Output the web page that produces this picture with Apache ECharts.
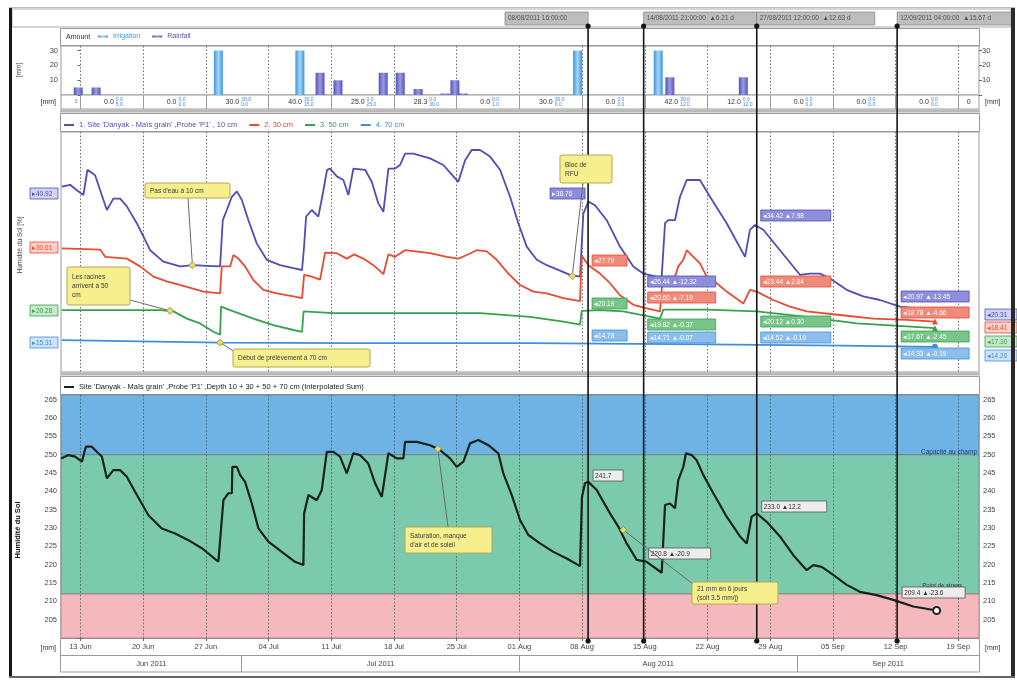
<!DOCTYPE html>
<html><head><meta charset="utf-8">
<script src="https://cdn.jsdelivr.net/npm/echarts@6/dist/echarts.min.js"></script>
<style>html,body{margin:0;padding:0;background:#fff;overflow:hidden}#c{width:1017px;height:681px}</style>
</head><body><div id="c"></div>
<script>
// ---------- DATA (x = days since 13 Jun 2011) ----------
const X_MIN = -2.17, X_MAX = 100.31;
const weekTicks = [0,7,14,21,28,35,42,49,56,63,70,77,84,91,98];
const weekLabels = ['13 Jun','20 Jun','27 Jun','04 Jul','11 Jul','18 Jul','25 Jul','01 Aug','08 Aug','15 Aug','22 Aug','29 Aug','05 Sep','12 Sep','19 Sep'];
const monthStarts = [18,49,80];
const monthLabels = ['Jun 2011','Jul 2011','Aug 2011','Sep 2011'];

const irrigation = [[15.4,30],[24.5,30],[55.5,30],[64.5,30]];
const rainfall = [[-0.25,5],[1.75,5],[26.75,15],[28.75,10],[33.8,15],[35.7,15],[37.7,4],[40.7,1],[41.8,10],[42.7,1],[65.8,12],[74.0,12]];

const weekTotals = ['','0.0','0.0','30.0','40.0','25.0','28.3','0.0','30.0','0.0','42.0','12.0','0.0','0.0','0.0','0'];
const weekIrr    = ['0','0.0','0.0','30.0','30.0','0.0','0.0','0.0','30.0','0.0','30.0','0.0','0.0','0.0','0.0',''];
const weekRain   = ['','5.0','0.0','0.0','15.0','25.0','30.0','1.0','0.0','0.0','12.0','12.0','0.0','0.0','0.0',''];

const soil10 = [[-2.08,40.9],[-1.15,41.2],[-0.40,40.3],[0.33,39.5],[0.78,43.7],[1.64,42.8],[2.20,40.3],[2.95,37.0],[3.68,38.9],[4.43,38.9],[5.18,37.6],[6.29,34.8],[7.78,30.3],[9.26,28.4],[11.13,27.6],[12.61,27.8],[14.11,27.7],[15.59,27.6],[15.89,35.3],[16.34,37.0],[16.90,39.2],[17.46,40.1],[18.01,38.7],[18.75,35.3],[19.69,31.4],[20.80,28.7],[22.29,27.8],[23.77,27.3],[24.74,27.0],[24.97,31.0],[25.19,35.9],[25.83,37.0],[26.56,35.9],[27.09,40.0],[27.53,43.7],[27.87,43.9],[28.62,42.6],[29.35,42.0],[29.91,39.5],[30.47,43.9],[31.78,43.7],[32.52,41.7],[33.26,38.1],[33.82,36.7],[34.38,43.9],[35.12,43.9],[35.68,44.5],[36.24,46.4],[37.17,46.4],[39.03,45.6],[40.51,44.5],[41.63,42.6],[42.19,41.7],[42.94,45.3],[43.68,47.0],[44.61,47.0],[45.73,45.9],[46.84,43.7],[47.96,39.2],[48.88,34.8],[49.82,30.9],[50.94,28.7],[52.05,27.8],[53.54,26.9],[54.65,26.2],[55.77,25.9],[56.14,36.4],[56.70,38.4],[57.44,37.8],[58.75,35.3],[60.23,30.9],[61.72,27.6],[62.83,26.4],[64.33,25.9],[64.89,25.9],[65.26,34.8],[65.63,35.3],[66.37,35.3],[66.93,39.2],[67.68,42.0],[69.16,42.0],[70.28,39.2],[72.14,34.8],[74.19,29.2],[74.74,33.7],[75.30,34.5],[76.23,33.7],[78.09,30.3],[80.32,26.2],[81.44,26.4],[82.55,26.4],[83.67,25.6],[85.54,23.7],[87.39,22.6],[89.25,22.0],[91.48,20.9],[95.39,20.3]];
const soil30 = [[-2.08,30.6],[2.20,30.4],[2.76,29.2],[5.18,28.9],[6.66,27.6],[8.15,25.9],[9.64,25.1],[11.88,24.2],[13.73,23.4],[15.59,23.1],[15.78,27.6],[16.71,27.6],[17.08,29.5],[17.63,28.9],[18.38,27.6],[19.31,25.3],[20.42,23.7],[21.92,23.1],[23.77,22.6],[24.74,22.3],[24.97,26.2],[25.83,25.9],[26.75,25.4],[27.31,29.9],[28.62,29.8],[29.73,28.9],[30.55,29.6],[31.58,28.9],[32.70,27.8],[33.82,26.3],[34.38,29.6],[35.12,29.2],[36.24,30.3],[39.03,29.8],[40.89,29.2],[42.19,28.9],[43.13,29.5],[44.24,30.3],[45.36,30.1],[46.47,28.7],[47.77,26.4],[49.07,24.5],[50.56,23.4],[52.05,23.1],[53.91,22.3],[55.77,21.8],[55.96,29.4],[56.70,27.8],[58.00,26.4],[59.12,24.8],[60.23,22.8],[61.72,21.2],[63.21,20.6],[64.70,20.1],[65.00,25.9],[66.37,25.9],[66.74,27.6],[67.30,28.7],[67.68,30.3],[68.42,29.2],[69.16,28.1],[69.91,25.9],[71.03,24.8],[72.14,23.4],[74.00,21.4],[74.74,23.7],[75.49,23.4],[77.34,22.0],[79.21,20.9],[81.07,20.1],[84.79,19.5],[88.50,18.9],[92.23,18.7],[95.39,18.4]];
const soil50 = [[-2.08,20.3],[8.90,20.3],[10.38,20.1],[11.88,18.9],[13.36,18.1],[14.84,16.7],[15.59,16.2],[15.70,20.9],[17.08,20.1],[19.31,18.9],[21.54,17.8],[23.77,17.0],[24.74,16.7],[24.91,20.1],[28.24,19.8],[35.68,19.8],[44.61,19.8],[50.19,19.2],[53.91,18.4],[55.77,17.9],[55.96,20.2],[58.00,20.3],[60.60,20.1],[64.70,18.9],[65.07,20.4],[69.91,20.4],[75.49,20.1],[81.07,19.2],[86.65,18.1],[92.23,17.6],[95.39,17.3]];
const soil70 = [[-2.08,15.3],[15.6,14.9],[30,14.8],[50,14.8],[70,14.6],[85,14.4],[95.39,14.2]];
const soilSum = [[-2.15,249.0],[-1.34,249.9],[-0.59,249.5],[0.16,248.1],[0.60,252.2],[1.27,252.2],[1.83,250.8],[2.39,249.5],[2.95,243.6],[3.68,245.8],[4.43,245.8],[5.18,244.0],[6.10,239.9],[7.59,233.5],[9.08,229.9],[10.57,228.5],[12.05,226.7],[13.55,224.5],[15.40,220.8],[15.70,229.9],[15.96,237.6],[16.52,239.5],[16.90,239.5],[16.96,246.7],[17.46,246.7],[17.82,244.5],[18.38,242.6],[19.13,236.7],[19.87,229.9],[20.98,226.3],[22.48,223.5],[23.96,220.8],[24.89,219.9],[24.97,234.0],[25.45,239.0],[26.38,237.6],[26.94,240.4],[27.50,250.8],[28.24,250.8],[28.98,249.5],[29.73,244.9],[30.47,250.4],[31.22,249.9],[32.14,247.6],[32.89,242.2],[33.64,238.5],[34.38,250.4],[35.31,249.0],[36.05,249.0],[36.24,253.5],[37.54,253.5],[39.03,252.6],[40.14,251.3],[41.26,249.0],[42.01,246.7],[42.75,248.1],[43.49,253.1],[44.42,254.0],[45.54,252.6],[46.65,250.4],[47.21,244.9],[48.15,239.0],[49.07,232.2],[50.00,228.1],[51.31,225.8],[52.79,223.5],[54.29,221.7],[55.77,219.6],[55.99,238.5],[56.32,242.2],[56.70,242.6],[57.63,240.4],[58.37,237.2],[59.12,234.0],[60.04,230.4],[60.98,225.8],[62.10,221.3],[63.21,220.8],[64.89,217.8],[65.26,236.3],[65.81,236.7],[66.37,235.4],[66.74,243.1],[67.30,246.7],[67.60,250.4],[68.24,249.9],[68.79,248.5],[69.53,244.5],[70.65,239.5],[72.14,233.1],[73.63,227.7],[74.38,225.8],[74.93,233.1],[75.49,234.0],[76.61,231.7],[78.09,227.7],[79.58,222.6],[81.07,218.5],[81.81,219.9],[82.75,219.4],[84.04,217.2],[85.54,214.5],[87.02,212.6],[88.88,211.7],[90.74,210.4],[92.97,208.6],[95.58,207.5]];

const bandFieldCapacity = 250, bandStress = 212, sumMin = 200, sumMax = 266.3;
const sumTicks = [200,205,210,215,220,225,230,235,240,245,250,255,260,265];
const sumLabels = [205,210,215,220,225,230,235,240,245,250,255,260,265];
const amountTicks = [0,10,20,30], amountLabels = [10,20,30];

const cursorDays = [56.67, 62.875, 75.5, 91.17];
const headerTexts = ['08/08/2011 16:00:00', '14/08/2011 21:00:00  \u25B26.21 d', '27/08/2011 12:00:00  \u25B212.63 d', '12/09/2011 04:00:00  \u25B215.67 d'];
const box10 = ['\u25B838.76','\u25C226.44 \u25B2-12.32','\u25C234.42 \u25B27.98','\u25C220.97 \u25B2-13.45'];
const box30 = ['\u25C227.79','\u25C220.60 \u25B2-7.19','\u25C223.44 \u25B22.84','\u25C218.78 \u25B2-4.66'];
const box50 = ['\u25C220.19','\u25C219.82 \u25B2-0.37','\u25C220.12 \u25B20.30','\u25C217.67 \u25B2-2.45'];
const box70 = ['\u25C214.78','\u25C214.71 \u25B2-0.07','\u25C214.52 \u25B2-0.19','\u25C214.33 \u25B2-0.19'];
const boxSum = ['241.7','220.8 \u25B2-20.9','233.0 \u25B212.2','209.4 \u25B2-23.6'];
const startVals = ['\u25B840.92','\u25B830.61','\u25B820.28','\u25B815.31'];
const endVals = ['\u25C220.31','\u25C218.41','\u25C217.30','\u25C214.20'];

const depthNames = ["1. Site 'Danyak - Ma\u00efs grain' ,Probe 'P1' , 10 cm", '2. 30 cm', '3. 50 cm', '4. 70 cm'];
const sumName = "Site 'Danyak - Ma\u00efs grain' ,Probe 'P1' ,Depth 10 + 30 + 50 + 70 cm (Interpolated Sum)";

// ---------- STYLE ----------
const FONT = '"Liberation Sans", Arial, sans-serif';
const depthColors = ['#4E4EB6','#EA4A33','#35A24C','#3D8FDC'];
const depthFill = ['#8E8EDB','#F08A7B','#79C488','#8CBDEB'];
const depthPale = ['#D2D2F3','#FAD0C9','#C8E8CD','#CDE2F7'];
const axisFont = {fontSize:7.5, color:'#444', fontFamily:FONT};

const chart = echarts.init(document.getElementById('c'));

const bounds = [X_MIN].concat(weekTicks, [X_MAX]);
const weekCenters = bounds.slice(0,-1).map((b,i)=>(b+bounds[i+1])/2);
const mb = [X_MIN].concat(monthStarts, [X_MAX]);
const monthCenters = mb.slice(0,-1).map((b,i)=>(b+mb[i+1])/2);

function xBase(gridIndex, extra){
  return Object.assign({
    type:'value', gridIndex, min:X_MIN, max:X_MAX,
    axisLine:{show:false},
    axisTick:{show:false, customValues:weekTicks},
    axisLabel:{show:false, customValues:weekTicks},
    splitLine:{show:true, lineStyle:{color:'#6f6f6f', type:[1.5,2], width:1}}
  }, extra||{});
}
const grids = [
  {left:61, right:38, top:46, height:49, show:true, borderColor:'#9a9a9a', borderWidth:1, backgroundColor:'#fff'},
  {left:61, right:38, top:95, height:14, show:true, borderColor:'#9a9a9a', borderWidth:1, backgroundColor:'#fff'},
  {left:61, right:38, top:132, height:240, show:true, borderColor:'#9a9a9a', borderWidth:1, backgroundColor:'#fff'},
  {left:61, right:38, top:395, height:243, show:true, borderColor:'#8a8a8a', borderWidth:1},
  {left:61, right:38, top:26, height:615}
];

const barGrad = (c1,c2)=>new echarts.graphic.LinearGradient(0,0,1,0,[{offset:0,color:c1},{offset:0.5,color:c2},{offset:1,color:c1}]);

function lineSeries(name, data, color, endSymbol){
  const d = data.map((p,i)=> (i===data.length-1 && endSymbol) ? {value:p, symbol:endSymbol, symbolSize:6, itemStyle:{color}} : p);
  return {type:'line', name, xAxisIndex:2, yAxisIndex:3, data:d, symbol:'none', showSymbol:true,
    lineStyle:{color, width:1.8}, itemStyle:{color}, z:3};
}

const option = {
  animation:false,
  textStyle:{fontFamily:FONT},
  grid: grids,
  legend:[
    {left:98, top:33, padding:0, itemWidth:10, itemHeight:2, itemGap:12, icon:'rect', selectedMode:false,
     textStyle:{fontSize:7, fontFamily:FONT},
     data:[{name:'Irrigation', textStyle:{color:'#3E98E4'}},{name:'Rainfall', textStyle:{color:'#4E4EB6'}}]},
    {left:64, top:121, padding:0, itemWidth:10, itemHeight:2, itemGap:12, icon:'rect', selectedMode:false,
     textStyle:{fontSize:7.5, fontFamily:FONT},
     data: depthNames.map((n,i)=>({name:n, textStyle:{color:depthColors[i]}}))},
    {left:64, top:383, padding:0, itemWidth:10, itemHeight:2, icon:'rect', selectedMode:false,
     textStyle:{fontSize:7.5, fontFamily:FONT, color:'#222'}, data:[sumName]}
  ],
  xAxis:[
    xBase(0),
    xBase(1, {splitLine:{show:true, lineStyle:{color:'#9a9a9a', width:1}}}),
    xBase(2),
    xBase(3, {z:3, axisTick:{show:true, customValues:weekTicks, length:3, lineStyle:{color:'#666'}},
      axisLabel:Object.assign({show:true, customValues:weekTicks, margin:5, formatter:v=>weekLabels[weekTicks.indexOf(v)]}, axisFont),
      splitLine:{show:true, lineStyle:{color:'#33574b', width:0.8, type:[2,1.5], opacity:0.75}}}),
    {type:'value', gridIndex:3, min:X_MIN, max:X_MAX, position:'bottom', offset:17,
      axisLine:{show:true, lineStyle:{color:'#999'}},
      axisTick:{show:true, customValues:monthStarts, length:17, lineStyle:{color:'#999'}},
      axisLabel:Object.assign({show:true, customValues:monthCenters, margin:5, formatter:v=>monthLabels[monthCenters.indexOf(v)]}, axisFont),
      splitLine:{show:false}},
    {type:'value', gridIndex:4, min:X_MIN, max:X_MAX, show:false}
  ],
  yAxis:[
    {type:'value', gridIndex:0, min:0, max:33, axisLine:{show:false},
      axisTick:{show:true, customValues:amountTicks, length:3, lineStyle:{color:'#666'}},
      axisLabel:Object.assign({customValues:amountLabels, margin:3}, axisFont), splitLine:{show:false}},
    {type:'value', gridIndex:0, min:0, max:33, position:'right', axisLine:{show:false},
      axisTick:{show:true, customValues:amountTicks, length:3, lineStyle:{color:'#666'}},
      axisLabel:Object.assign({customValues:amountLabels, margin:3}, axisFont), splitLine:{show:false}},
    {type:'value', gridIndex:1, min:0, max:1, show:false},
    {type:'value', gridIndex:2, min:10, max:50, show:false},
    {type:'value', gridIndex:3, min:sumMin, max:sumMax, axisLine:{show:false},
      axisTick:{show:true, customValues:sumTicks, length:3, lineStyle:{color:'#666'}},
      axisLabel:Object.assign({customValues:sumLabels, margin:4}, axisFont), splitLine:{show:false}},
    {type:'value', gridIndex:3, min:sumMin, max:sumMax, position:'right', axisLine:{show:false},
      axisTick:{show:true, customValues:sumTicks, length:3, lineStyle:{color:'#666'}},
      axisLabel:Object.assign({customValues:sumLabels, margin:4}, axisFont), splitLine:{show:false}},
    {type:'value', gridIndex:4, min:0, max:1, show:false}
  ],
  series:[
    {type:'bar', name:'Irrigation', xAxisIndex:0, yAxisIndex:0, data:irrigation, barWidth:9,
      itemStyle:{color:barGrad('#3C95E0','#A6D6F7')}},
    {type:'bar', name:'Rainfall', xAxisIndex:0, yAxisIndex:0, data:rainfall, barWidth:9, barGap:'-100%',
      itemStyle:{color:barGrad('#5555BC','#9A9AE2')}},
    {type:'custom', name:'weekly', xAxisIndex:1, yAxisIndex:2, clip:false, silent:true,
      data: weekCenters.map(c=>[c,0.5]),
      renderItem:(p,api)=>{
        const i = p.dataIndex; const c = api.coord([api.value(0),0.5]);
        return {type:'group', children:[
          {type:'text', x:c[0]+2, y:c[1], style:{text:weekTotals[i], textAlign:'right', textVerticalAlign:'middle', font:'7px '+FONT, fill:'#333'}},
          {type:'text', x:c[0]+4, y:c[1], style:{text:weekIrr[i]+(weekRain[i]?'\n'+weekRain[i]:''), textAlign:'left', textVerticalAlign:'middle', font:'5px '+FONT, fill:'#3a86dc', lineHeight:5.5}}
        ]};
      }},
    lineSeries(depthNames[0], soil10, depthColors[0], null),
    lineSeries(depthNames[1], soil30, depthColors[1], 'triangle'),
    lineSeries(depthNames[2], soil50, depthColors[2], 'triangle'),
    lineSeries(depthNames[3], soil70, depthColors[3], 'circle'),
    {type:'line', name:sumName, xAxisIndex:3, yAxisIndex:4, symbol:'none', showSymbol:true, z:4,
      data: soilSum.map((p,i)=> i===soilSum.length-1 ? {value:p, symbol:'emptyCircle', symbolSize:7, itemStyle:{color:'#222', borderWidth:1.6}} : p),
      lineStyle:{color:'#16231d', width:2.2}, itemStyle:{color:'#16231d'},
      markArea:{silent:true, data:[
        [{yAxis:bandFieldCapacity, itemStyle:{color:'#6EB3E4', borderColor:'#6c7f8c', borderWidth:0.8}},{yAxis:sumMax}],
        [{yAxis:bandStress, itemStyle:{color:'#7CCAAE', borderColor:'#6c7f7a', borderWidth:0.8}},{yAxis:bandFieldCapacity}],
        [{yAxis:sumMin, itemStyle:{color:'#F5B8BC', borderColor:'#9a7f80', borderWidth:0.8}},{yAxis:bandStress}]
      ]}},
    {type:'custom', name:'cursors', xAxisIndex:5, yAxisIndex:6, clip:false, silent:true, z:20,
      data: cursorDays.map(d=>[d,0]),
      renderItem:(p,api)=>{
        const t = api.coord([api.value(0),1]), b = api.coord([api.value(0),0]);
        return {type:'group', children:[
          {type:'line', shape:{x1:t[0],y1:t[1],x2:b[0],y2:b[1]}, style:{stroke:'#151515', lineWidth:1.6}},
          {type:'circle', shape:{cx:t[0],cy:t[1],r:2.6}, style:{fill:'#151515'}},
          {type:'circle', shape:{cx:b[0],cy:b[1],r:2.6}, style:{fill:'#151515'}}
        ]};
      }}
  ]
};
chart.setOption(option);

// ---------- annotations / frame ----------
const F = {mid:{xAxisIndex:2,yAxisIndex:3}, bot:{xAxisIndex:3,yAxisIndex:4}, ov:{xAxisIndex:5,yAxisIndex:6}};
const cx = cursorDays.map(d=>chart.convertToPixel(F.ov,[d,0])[0]);
const G = [];
function R(x,y,w,h,fill,stroke,lw,z,r){ G.push({type:'rect', silent:true, z:z||0, shape:{x,y,width:w,height:h,r:r||0}, style:{fill:fill||'none', stroke:stroke||null, lineWidth:lw||1}}); }
function T(x,y,text,st,z,rot){ const e={type:'text', silent:true, z:z||40, x, y, style:Object.assign({text, fill:'#333', font:'7px '+FONT, textAlign:'left', textVerticalAlign:'middle'}, st||{})}; if(rot) e.rotation=rot; G.push(e); }
function B(x,y,w,h,fill,stroke,text,tcol,z){ R(x,y,w,h,fill,stroke,0.8,z); T(x+2,y+h/2+0.5,text,{fill:tcol,font:'6.5px '+FONT},z+1); }

// outer frame & header
R(12,9,999,18,'#fff','#aaa',1,0);
R(505,12,cx[0]-505,13,'#BDBDBD','#8a8a8a',0.8,1); T(508,18.5,headerTexts[0],{fill:'#555',font:'6.5px '+FONT},2);
R(cx[1],12,cx[2]-cx[1],13,'#BDBDBD','#8a8a8a',0.8,1); T(cx[1]+3,18.5,headerTexts[1],{fill:'#555',font:'6.5px '+FONT},2);
R(cx[2],12,118,13,'#BDBDBD','#8a8a8a',0.8,1); T(cx[2]+3,18.5,headerTexts[2],{fill:'#555',font:'6.5px '+FONT},2);
R(cx[3],12,1012-cx[3],13,'#BDBDBD','#8a8a8a',0.8,1); T(cx[3]+3,18.5,headerTexts[3],{fill:'#555',font:'6.5px '+FONT},2);
// panel rows
R(60.5,28.5,919,17,'#fff','#9a9a9a',1,0);
R(60,109.5,920,3,'#B8B8B8',null,1,0);
R(60.5,113.5,919,18,'#fff','#9a9a9a',1,0);
R(60,372.5,920,3,'#B8B8B8',null,1,0);
R(60.5,376.5,919,18,'#fff','#9a9a9a',1,0);
R(60.5,638.5,919,33.5,'none','#9a9a9a',1,0);
T(66,37.5,'Amount',{fill:'#333'},5);
// side labels
T(56,102,'[mm]',{textAlign:'right',fill:'#333'});
T(985,102,'[mm]',{fill:'#333'});
T(56,648,'[mm]',{textAlign:'right',fill:'#333'});
T(985,648,'[mm]',{fill:'#333'});
T(19,70,'[mm]',{textAlign:'center',fill:'#444',font:'6.5px '+FONT},40,Math.PI/2);
T(20,245,'Humidit\u00e9 du Sol [%]',{textAlign:'center',fill:'#444',font:'6.5px '+FONT},40,Math.PI/2);
T(18,530,'Humidit\u00e9 du Sol',{textAlign:'center',fill:'#111',font:'bold 7.5px '+FONT},40,Math.PI/2);
// band captions
T(977,452,'Capacit\u00e9 au champ',{textAlign:'right',fill:'#1f3d7a',font:'6.5px '+FONT},30);
T(962,585,'Point de stress',{textAlign:'right',fill:'#333',font:'6px '+FONT},30);

// start / end value boxes (middle panel)
const startY=[188,242,305,337], endY=[309,322,336,350];
for(let i=0;i<4;i++){
  B(30,startY[i],28,11,depthPale[i],depthColors[i],startVals[i],depthColors[i],45);
  B(985,endY[i],32,11,depthPale[i],depthColors[i],endVals[i],depthColors[i],45);
}
// cursor value boxes (middle panel)
const boxSets=[box10,box30,box50,box70];
const curY=[[188,255,298,330],[276,292,319,332],[210,276,316,332],[291,307,331,348]];
const curW=[35,68,70,68];
for(let k=0;k<4;k++){
  for(let i=0;i<4;i++){
    const x = (k===0 && i===0) ? cx[0]-38 : cx[k]+4;
    B(x,curY[k][i],curW[k],11,depthFill[i],depthColors[i],boxSets[i][k],'#fff',45);
  }
}
// cursor value boxes (sum panel)
const sumBoxY=[470,548,501,587], sumBoxW=[30,62,65,63];
for(let k=0;k<4;k++) B(cx[k]+5,sumBoxY[k],sumBoxW[k],11,'#EDEDED','#555',boxSum[k],'#333',45);

// yellow notes
function note(f, d, v, bx, by, bw, bh, text, sx, sy){
  const a = chart.convertToPixel(f,[d,v]);
  G.push({type:'line', silent:true, z:50, shape:{x1:sx,y1:sy,x2:a[0],y2:a[1]}, style:{stroke:'#6a6a6a', lineWidth:1}});
  G.push({type:'polygon', silent:true, z:51, shape:{points:[[a[0],a[1]-3.5],[a[0]+3.5,a[1]],[a[0],a[1]+3.5],[a[0]-3.5,a[1]]]}, style:{fill:'#E9DC6A', stroke:'#8d8440', lineWidth:0.8}});
  R(bx,by,bw,bh,'#F7EF8E','#B3A852',1,52,2);
  T(bx+5,by+bh/2+0.5,text,{fill:'#3a3a3a',font:'6.5px '+FONT,lineHeight:9},53);
}
note(F.mid, 12.5, 27.8, 145,183,85,15, "Pas d'eau \u00e0 10 cm", 188,198);
note(F.mid, 10.0, 20.2, 67,267,63,38, "Les racines\narrivent \u00e0 50\ncm", 130,300);
note(F.mid, 15.6, 14.9, 233,349,137,18, "D\u00e9but de pr\u00e9l\u00e8vement \u00e0 70 cm", 235,352);
note(F.mid, 54.9, 26.0, 560,155,52,28, "Bloc de\nRFU", 583,183);
note(F.bot, 39.9, 251.6, 405,527,87,26, "Saturation, manque\nd'air et de soleil", 448,527);
note(F.bot, 60.6, 229.5, 692,582,86,22, "21 mm en 6 jours\n(soit 3.5 mm/j)", 694,585);

// outer frame on top
R(9,8,3,670,'#151515',null,1,70);
R(1011,8,4,670,'#2a2a2a',null,1,70);
R(9,676,1006,2,'#666',null,1,70);
R(9,7,1006,1,'#bbb',null,1,70);

chart.setOption({graphic:{elements:G}});
</script></body></html>
